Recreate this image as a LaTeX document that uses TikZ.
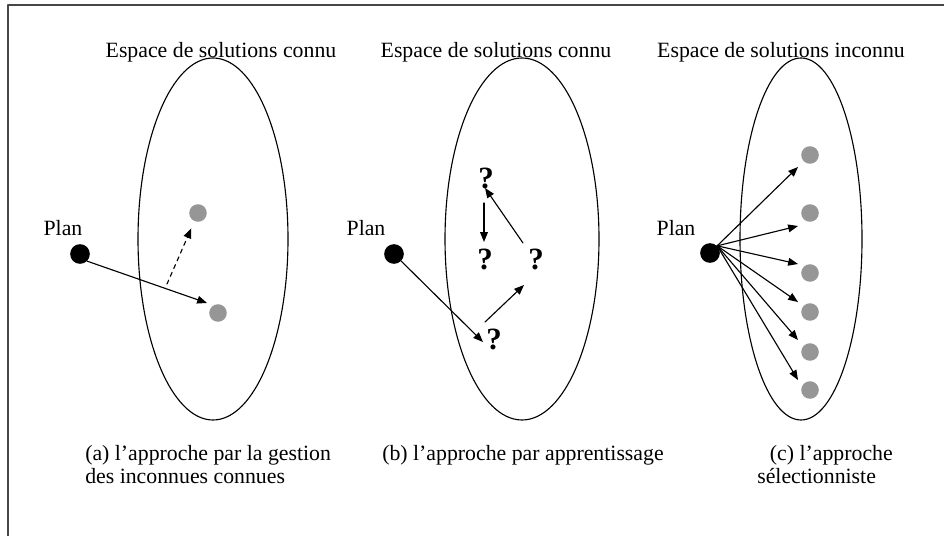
\documentclass[tikz,border=0pt]{standalone}
\usepackage{fontspec}
\setmainfont{Liberation Serif}
\usetikzlibrary{calc,arrows.meta}
\definecolor{dotgray}{RGB}{150,150,150}
\definecolor{framegray}{RGB}{70,70,70}
\begin{document}
\begin{tikzpicture}[x=0.025cm, y=-0.025cm, font=\fontsize{15.5}{16.4}\selectfont,
    line join=round, line cap=round, >={Triangle[length=7pt,width=5.5pt]},
    plan/.style={circle, fill=black, inner sep=0pt, minimum size=14pt},
    sol/.style={circle, fill=dotgray, inner sep=0pt, minimum size=12.5pt},
    quest/.style={inner sep=2pt, font=\fontsize{22}{22}\selectfont\bfseries},
    arr/.style={->, line width=0.8pt}]
  \useasboundingbox (0,0) rectangle (944,536);
  \draw[framegray, line width=1.4pt] (8,536) -- (8,5) -- (944,5);
  % titres
  \node (ta) at (221,52) {Espace de solutions connu};
  \node (tb) at (496,52) {Espace de solutions connu};
  \node (tc) at (781,52) {Espace de solutions inconnu};
  % espaces
  \draw[line width=0.8pt] (213,239) ellipse [x radius=75, y radius=181];
  \draw[line width=0.8pt] (522,239) ellipse [x radius=77, y radius=181];
  \draw[line width=0.8pt] (801,239) ellipse [x radius=61, y radius=181];
  % (a)
  \node[plan] (pa) at (80,254) {};
  \node (la) at (63,228) {Plan};
  \node[sol] (a1) at (198,213) {};
  \node[sol] (a2) at (218,313) {};
  \coordinate (am) at (167,284);
  \draw[arr] (pa.south east) -- ($(a2)+(-11,-10)$);
  \draw[arr, dashed, shorten >=5.5pt] (am) -- (a1);
  % (b)
  \node[plan] (pb) at (394,254) {};
  \node (lb) at (366,228) {Plan};
  \node[quest] (q1) at (486,178) {?};
  \node[quest] (q2) at (485,259) {?};
  \node[quest] (q3) at (536,259) {?};
  \node[quest] (q4) at (494,339) {?};
  \draw[arr] (pb) -- ($(q4)+(-11,3)$);
  \draw[arr] ($(q4)+(-9,-17)$) -- ($(q3)+(-12,26)$);
  \draw[arr] ($(q3)+(-13,-16)$) -- ($(q1)+(-1,10)$);
  \draw[arr] ($(q1)+(-2,25)$) -- ($(q2)+(-1,-17)$);
  % (c)
  \node[plan] (pc) at (710,253) {};
  \node (lc) at (676,228) {Plan};
  \foreach \i/\y in {1/155,2/213,3/273,4/312,5/352,6/390}
    \node[sol] (c\i) at (810,\y) {};
  \foreach \i/\dy in {1/12,2/13,3/-9,4/-10,5/-12,6/-10}
    \draw[arr] (pc.north east) -- ($(c\i)+(-12,\dy)$);
  % legendes
  \node[anchor=north west, align=left, inner sep=0pt] (capa) at (85,445)
    {(a) l'approche par la gestion\\des inconnues connues};
  \node[anchor=north west, inner sep=0pt] (capb) at (382,445)
    {(b) l'approche par apprentissage};
  \node[anchor=north west, align=left, inner sep=0pt] (capc) at (757,445)
    {\hspace*{9pt}(c) l'approche\\sélectionniste};
\end{tikzpicture}
\end{document}
